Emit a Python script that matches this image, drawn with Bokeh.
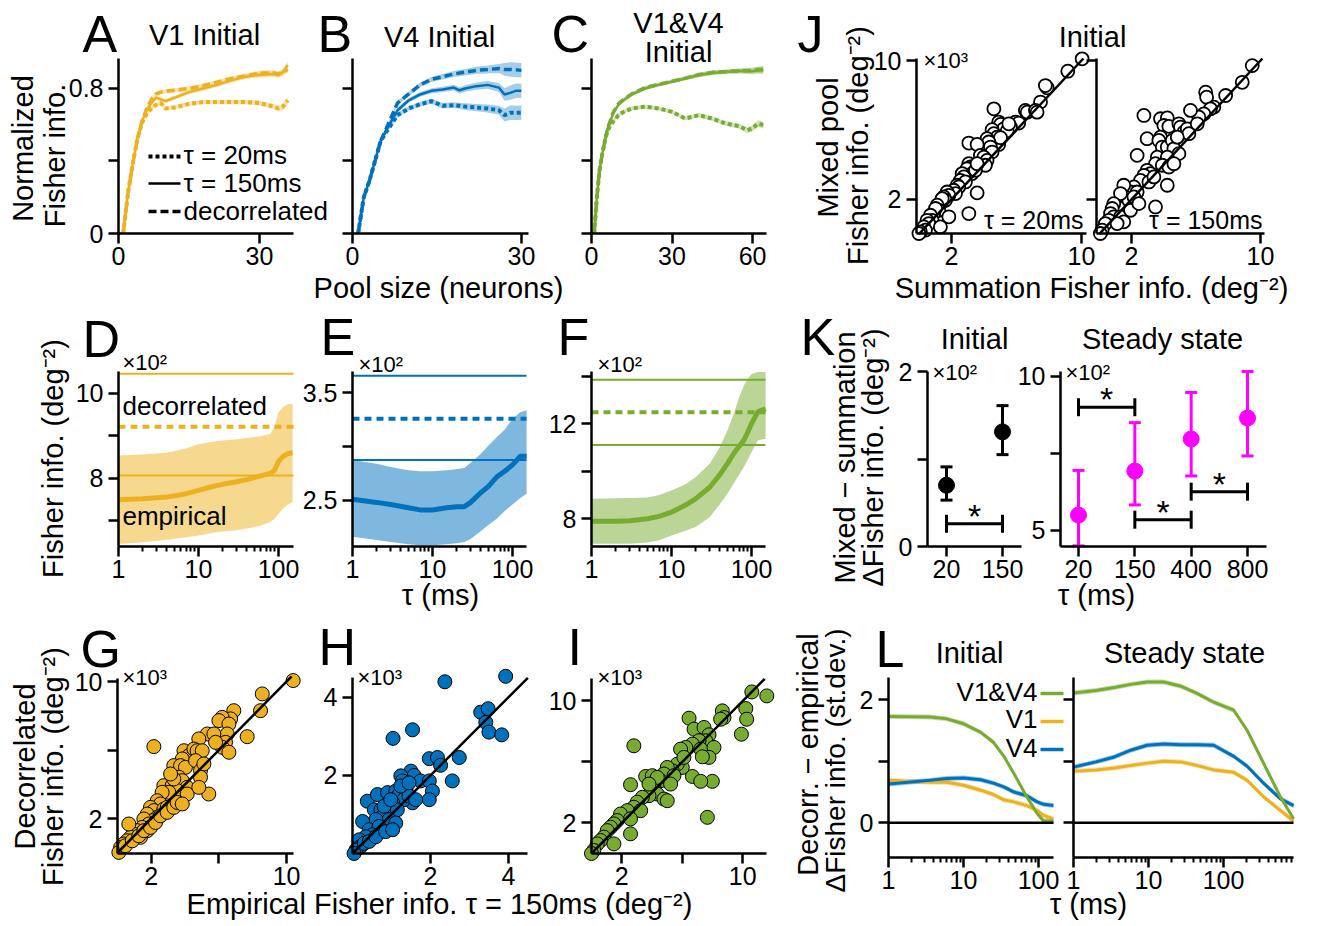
import math
from bokeh.plotting import figure
from bokeh.models import (Label, Arrow, Whisker, TeeHead, FixedTicker, CustomJSTickFormatter,
                          ColumnDataSource, Range1d, LinearScale, LogScale, LinearAxis, LogAxis)
from bokeh.core.properties import value
from bokeh.embed import file_html
from bokeh.resources import INLINE

FONT = "Liberation Sans"
ORANGE = "#EDB120"; BLUE = "#0072BD"; GREEN = "#77AC30"; MAGENTA = "#FF00FF"
PI2 = math.pi / 2

# ---------------- data ----------------
A_pool = [1, 2, 3, 4, 5, 6, 7, 8, 9, 10, 12, 15, 18, 21, 24, 27, 30, 33, 34, 35, 36]
A_tau20 = [0, .22, .38, .52, .61, .66, .69, .71, .72, .69, .695, .715, .725, .725, .725, .725, .72, .70, .69, .70, .735]
A_tau150 = [0, .22, .38, .52, .62, .68, .72, .75, .74, .73, .75, .78, .80, .82, .845, .865, .875, .88, .875, .89, .93]
A_decor = [0, .22, .38, .52, .62, .69, .74, .77, .78, .785, .79, .80, .815, .835, .855, .87, .885, .885, .88, .89, .905]
A_sem = [0, .005, .008, .01, .01, .012, .012, .012, .012, .012, .012, .012, .012, .012, .013, .013, .014, .015, .016, .018, .02]

B_pool = [1, 2, 3, 4, 5, 6, 8, 10, 12, 14, 16, 18, 19, 20, 22, 24, 26, 27, 28, 29, 30]
B_tau20 = [0, .2, .29, .40, .51, .56, .653, .69, .713, .73, .705, .708, .705, .70, .695, .69, .68, .653, .666, .666, .666]
B_tau150 = [0, .2, .29, .40, .51, .57, .68, .735, .767, .787, .795, .805, .79, .80, .813, .82, .805, .767, .776, .787, .787]
B_decor = [0, .2, .29, .40, .51, .58, .72, .77, .82, .85, .865, .88, .885, .89, .90, .905, .91, .905, .905, .903, .90]
B_sem = [0, .005, .008, .01, .01, .01, .012, .012, .013, .014, .015, .016, .017, .018, .02, .022, .025, .035, .04, .04, .04]

C_pool = [1, 2, 3, 4, 5, 6, 8, 10, 12, 15, 20, 25, 30, 35, 40, 45, 50, 55, 58, 60, 62, 64]
C_tau20 = [0, .2, .35, .44, .51, .57, .616, .653, .671, .69, .70, .69, .671, .634, .653, .634, .607, .592, .57, .58, .607, .598]
C_tau150 = [0, .2, .35, .44, .51, .58, .66, .71, .735, .767, .80, .82, .837, .855, .874, .886, .892, .896, .897, .895, .90, .90]
C_decor = [0, .2, .35, .44, .51, .58, .665, .715, .74, .77, .805, .822, .84, .857, .876, .888, .893, .897, .898, .90, .903, .905]
C_sem = [0, .005, .008, .01, .01, .01, .01, .01, .01, .01, .01, .01, .01, .01, .012, .012, .012, .013, .015, .016, .018, .02]

D_tau = [1, 2, 4, 7, 10, 15, 20, 30, 40, 60, 80, 90, 100, 115, 130, 150]
D_emp = [7.50, 7.52, 7.56, 7.64, 7.72, 7.81, 7.86, 7.92, 7.97, 8.06, 8.12, 8.2, 8.40, 8.52, 8.58, 8.60]
D_lo = [6.46, 6.50, 6.56, 6.62, 6.66, 6.72, 6.75, 6.78, 6.82, 6.89, 6.98, 7.06, 7.17, 7.30, 7.38, 7.44]
D_hi = [8.54, 8.56, 8.60, 8.70, 8.80, 8.86, 8.89, 8.92, 8.95, 8.99, 9.05, 9.25, 9.55, 9.68, 9.74, 9.76]
D_refs = [10.46, 9.21, 8.07]

E_tau = [1, 2, 3, 5, 7, 10, 15, 20, 25, 30, 40, 50, 64, 80, 100, 125, 150]
E_emp = [2.51, 2.48, 2.46, 2.43, 2.41, 2.41, 2.43, 2.44, 2.44, 2.48, 2.57, 2.63, 2.72, 2.77, 2.83, 2.91, 2.91]
E_lo = [2.16, 2.13, 2.11, 2.09, 2.08, 2.08, 2.09, 2.10, 2.11, 2.14, 2.21, 2.27, 2.33, 2.40, 2.46, 2.52, 2.56]
E_hi = [2.875, 2.84, 2.81, 2.78, 2.77, 2.77, 2.78, 2.79, 2.80, 2.85, 2.93, 3.01, 3.09, 3.16, 3.26, 3.32, 3.34]
E_refs = [3.66, 3.26, 2.875]

F_tau = [1, 2, 3, 5, 7, 10, 15, 20, 30, 40, 50, 60, 70, 80, 90, 100, 120, 150]
F_emp = [7.9, 7.9, 7.92, 8.0, 8.1, 8.28, 8.58, 8.84, 9.33, 9.85, 10.32, 10.75, 11.05, 11.3, 11.65, 12.0, 12.5, 12.63]
F_lo = [6.95, 6.95, 6.95, 7.0, 7.1, 7.3, 7.5, 7.65, 8.07, 8.6, 9.05, 9.5, 9.85, 10.17, 10.5, 10.8, 11.3, 11.37]
F_hi = [8.84, 8.86, 8.88, 8.9, 9.0, 9.19, 9.45, 9.75, 10.32, 11.0, 11.72, 12.4, 13.12, 13.6, 13.9, 14.1, 14.18, 14.18]
F_refs = [13.85, 12.49, 11.11]

G_pts = [(10.39, 10.06), (8.56, 9.28), (8.46, 8.30), (6.88, 8.30), (6.69, 7.82), (6.19, 7.91), (6.00, 7.72),
         (6.59, 7.52), (7.67, 6.78), (6.49, 6.94), (6.39, 6.45), (6.19, 6.16), (6.59, 5.87), (5.31, 6.94),
         (5.70, 6.94), (5.80, 6.45), (4.81, 6.65), (2.15, 6.20), (3.93, 5.96), (4.22, 5.67), (4.42, 5.58),
         (3.83, 5.48), (4.52, 6.06), (4.71, 5.96), (5.01, 5.96), (3.33, 5.09), (3.73, 5.09), (4.02, 4.99),
         (4.62, 5.38), (4.91, 4.80), (5.11, 5.19), (5.40, 3.43), (2.74, 3.92), (3.23, 3.92), (3.63, 4.41),
         (3.83, 4.21), (4.12, 3.82), (3.53, 3.63), (3.83, 3.24), (4.12, 3.43), (3.04, 3.53), (2.64, 3.53),
         (4.91, 4.41), (4.81, 3.82), (2.35, 3.04), (2.54, 2.85), (1.95, 2.65), (2.15, 2.46), (1.76, 2.26),
         (2.74, 2.55), (2.94, 2.65), (2.35, 2.07), (2.05, 1.87), (1.56, 1.97), (1.85, 1.68), (1.46, 1.48),
         (1.16, 1.29), (0.97, 1.09), (0.77, 0.90), (0.57, 0.70), (0.37, 0.51), (0.18, 0.31), (0.08, 0.02),
         (0.67, 1.68), (1.36, 0.90), (1.76, 1.29), (0.47, 0.41), (0.87, 0.70), (1.26, 0.99), (1.56, 1.29),
         (1.95, 1.48), (2.25, 1.77), (2.54, 2.16), (2.94, 2.36), (3.33, 2.65), (3.53, 2.94), (3.83, 2.85),
         (3.33, 4.31), (3.14, 4.60)]
H_pts = [(3.93, 4.54), (2.37, 4.40), (3.29, 3.62), (3.48, 3.71), (3.42, 3.36), (3.50, 3.11), (3.83, 3.04),
         (1.54, 3.17), (1.04, 2.95), (2.74, 2.46), (1.97, 2.43), (2.18, 2.46), (2.26, 2.26), (2.56, 1.86),
         (1.50, 2.11), (1.58, 2.00), (1.24, 1.99), (1.28, 1.86), (1.75, 1.86), (1.97, 1.86), (2.05, 1.60),
         (1.97, 1.38), (0.38, 1.34), (0.64, 1.51), (0.90, 1.56), (1.11, 1.60), (1.20, 1.51), (1.37, 1.64),
         (1.54, 1.30), (1.32, 1.38), (1.45, 1.47), (1.62, 1.38), (0.56, 1.12), (0.73, 1.12), (0.85, 1.12),
         (1.03, 1.30), (1.15, 1.12), (0.77, 0.95), (0.94, 0.87), (1.11, 0.78), (0.60, 0.87), (0.26, 0.82),
         (0.43, 0.61), (0.68, 0.69), (0.51, 0.48), (0.34, 0.43), (0.17, 0.35), (0.21, 0.18), (0.09, 0.09),
         (0.04, 0.00), (0.30, 0.26), (0.43, 0.31), (0.60, 0.43), (0.85, 0.56), (1.03, 0.61), (0.81, 1.21),
         (0.98, 1.38), (1.24, 1.73), (1.45, 1.81)]
I_pts = [(11.59, 10.33), (10.60, 10.59), (10.20, 9.50), (10.26, 8.80), (9.91, 7.82), (8.65, 9.35), (8.76, 8.91),
         (8.54, 8.80), (6.45, 8.87), (2.80, 7.06), (6.78, 8.15), (7.44, 8.26), (7.77, 7.78), (7.55, 7.39),
         (7.11, 7.39), (6.67, 7.17), (6.23, 6.95), (5.89, 6.84), (7.22, 6.84), (8.10, 6.95), (7.77, 6.30),
         (7.33, 6.34), (7.99, 4.73), (7.66, 2.37), (6.67, 5.05), (7.22, 4.73), (6.00, 5.64), (5.67, 5.86),
         (5.34, 5.42), (5.01, 5.64), (4.79, 5.21), (4.57, 4.77), (5.45, 5.10), (5.23, 4.55), (3.58, 5.05),
         (4.02, 5.10), (2.58, 4.51), (4.13, 4.34), (4.35, 3.90), (3.80, 3.79), (3.36, 3.68), (4.79, 3.57),
         (5.01, 3.46), (3.02, 3.36), (2.80, 3.03), (3.25, 2.81), (2.36, 2.81), (1.92, 2.59), (2.58, 2.27),
         (1.70, 2.16), (1.48, 1.94), (1.26, 1.72), (1.04, 1.50), (0.82, 1.07), (0.60, 0.85), (0.38, 0.63),
         (0.15, 0.20), (0.0, 0.0), (1.48, 0.63), (2.58, 1.29), (6.11, 6.30), (4.35, 4.99), (3.80, 4.55)]
J20_pts = [(10.04, 10.10), (9.16, 9.39), (7.89, 8.43), (7.78, 8.56), (7.48, 7.61), (6.55, 7.13), (6.66, 7.03),
           (7.17, 7.13), (7.27, 7.03), (5.94, 6.46), (6.14, 6.40), (5.53, 6.21), (5.63, 6.17), (4.61, 7.22),
           (4.91, 6.46), (5.02, 6.32), (5.22, 6.07), (5.43, 5.94), (5.53, 6.36), (4.50, 6.02), (4.61, 5.79),
           (4.81, 5.59), (4.91, 5.17), (5.02, 5.56), (4.19, 5.50), (4.30, 5.31), (4.40, 5.02), (4.50, 4.73),
           (3.07, 5.25), (3.58, 5.17), (3.78, 4.54), (3.99, 4.44), (4.19, 4.25), (4.09, 3.97), (3.07, 4.06),
           (3.17, 3.87), (2.96, 3.77), (3.27, 3.49), (3.48, 3.68), (3.58, 4.06), (2.66, 3.49), (2.76, 3.30),
           (2.55, 3.10), (2.86, 3.01), (2.35, 2.82), (2.45, 2.72), (2.14, 2.53), (2.25, 2.34), (3.58, 2.38),
           (3.07, 1.19), (1.73, 2.43), (1.84, 2.24), (1.53, 2.15), (1.63, 1.95), (1.32, 1.76), (1.43, 2.05),
           (1.12, 1.67), (1.22, 1.38), (0.91, 1.19), (1.02, 1.48), (0.71, 1.09), (0.81, 0.80), (0.50, 0.80),
           (0.61, 0.61), (0.30, 0.42), (0.40, 0.23), (0.09, 0.13), (0.00, 0.04), (1.84, 1.00), (1.32, 0.42)]
J150_pts = [(9.49, 9.71), (8.87, 8.75), (7.84, 7.99), (6.60, 8.18), (6.66, 7.89), (7.11, 7.32), (6.90, 7.22),
            (6.49, 6.93), (6.18, 6.74), (5.66, 7.13), (2.77, 6.84), (3.80, 6.65), (4.22, 6.70), (4.01, 6.26),
            (4.32, 6.21), (4.94, 6.36), (5.04, 6.17), (5.25, 5.88), (5.46, 6.07), (5.56, 5.79), (6.08, 6.36),
            (2.97, 5.50), (3.80, 5.59), (3.70, 5.40), (3.91, 5.02), (4.22, 5.02), (4.53, 5.40), (4.63, 4.92),
            (4.94, 4.64), (4.84, 5.59), (2.35, 4.54), (3.60, 4.44), (4.22, 4.44), (3.49, 4.06), (3.91, 3.97),
            (4.32, 3.87), (4.63, 4.06), (2.97, 3.68), (3.18, 3.49), (2.77, 3.39), (2.56, 3.10), (3.08, 3.01),
            (3.39, 3.30), (4.22, 2.82), (2.15, 2.72), (1.94, 2.43), (2.35, 2.43), (1.63, 2.15), (1.83, 1.95),
            (2.15, 2.15), (1.52, 2.82), (1.32, 2.34), (3.49, 1.57), (0.90, 1.76), (0.80, 1.48), (0.70, 1.19),
            (0.90, 1.00), (0.59, 0.80), (0.38, 0.61), (0.18, 0.23), (0.07, 0.04), (1.32, 1.00), (1.52, 0.71),
            (1.11, 0.61), (1.94, 1.38), (2.46, 1.76)]
G_diag = [0, 10.3]
H_diag = [0, 4.5]
I_diag = [0, 11.45]
J_diag = [0, 10.12]

K_init_tau = ["20", "150"]
K_init_mean = [0.70, 1.31]
K_init_lo = [0.53, 1.05]
K_init_hi = [0.91, 1.61]
K_init_sig = [(0, 1, 0.26)]
K_ss_tau = ["20", "150", "400", "800"]
K_ss_mean = [5.5, 6.93, 7.97, 8.65]
K_ss_lo = [4.5, 5.83, 6.77, 7.42]
K_ss_hi = [6.95, 8.5, 9.48, 10.16]
K_ss_sig = [(0, 1, 9.0), (1, 2, 5.35), (2, 3, 6.26)]

L_init_tau = [1, 3.6, 6, 10, 17, 25, 35, 47, 70, 96, 117, 158]
L_init_v1v4 = [1.73, 1.72, 1.69, 1.61, 1.47, 1.31, 1.07, 0.80, 0.42, 0.15, 0.03, 0.03]
L_init_v1 = [0.69, 0.66, 0.66, 0.61, 0.53, 0.46, 0.37, 0.34, 0.28, 0.20, 0.12, 0.065]
L_init_v4 = [0.63, 0.69, 0.72, 0.73, 0.70, 0.645, 0.58, 0.50, 0.44, 0.34, 0.30, 0.28]
L_ss_tau = [1, 2, 3.5, 5.8, 9.6, 16, 27, 45, 74, 137, 207, 345, 575, 860]
L_ss_v1v4 = [2.11, 2.15, 2.2, 2.25, 2.29, 2.29, 2.22, 2.10, 1.96, 1.83, 1.50, 0.96, 0.42, 0.065]
L_ss_v1 = [0.84, 0.86, 0.89, 0.93, 0.97, 1.0, 0.99, 0.93, 0.86, 0.82, 0.69, 0.42, 0.2, 0.03]
L_ss_v4 = [0.905, 0.99, 1.07, 1.18, 1.26, 1.28, 1.27, 1.27, 1.26, 1.08, 0.92, 0.64, 0.39, 0.28]
L_sem = 0.04
L_legend = ["V1&V4", "V1", "V4"]

# ---------------- canvas ----------------
W, H = 1330, 923
p = figure(width=W, height=H, x_range=Range1d(0, W), y_range=Range1d(H, 0),
           x_axis_location=None, y_axis_location=None, title_location=None,
           output_backend="svg", toolbar_location=None, min_border=0)
p.outline_line_color = None
p.grid.visible = False

XR, YR, XS, YS, PAN = {}, {}, {}, {}, {}

def panel(name, xpx, xd, ypx, yd, xlog=False):
    """xpx=(left,right) pixel, xd=data at those; ypx=(bottom,top) pixel, yd=data at those."""
    t = math.log10 if xlog else (lambda v: v)
    ta, tb = t(xd[0]), t(xd[1])
    s = (tb - ta) / (xpx[1] - xpx[0])
    xs, xe = ta - xpx[0] * s, ta + (W - xpx[0]) * s
    if xlog:
        xs, xe = 10 ** xs, 10 ** xe
    sy = (yd[1] - yd[0]) / (ypx[0] - ypx[1])
    ys, ye = yd[0] - (H - ypx[0]) * sy, yd[1] + ypx[1] * sy
    XR[name] = Range1d(xs, xe); YR[name] = Range1d(ys, ye)
    XS[name] = LogScale() if xlog else LinearScale(); YS[name] = LinearScale()
    PAN[name] = dict(xd=xd, yd=yd, xlog=xlog)

Y_AC = ((233, 58), (0, 0.9655))
panel("A", (118, 293), (0, 37.23), *Y_AC)
panel("B", (352, 528), (0, 31.26), *Y_AC)
panel("C", (591, 766), (0, 65.2), *Y_AC)
panel("J1", (916, 1086), (-0.15, 10.31), (233, 58), (0.04, 10.12))
panel("J2", (1096, 1264), (-0.17, 10.25), (233, 58), (0.04, 10.12))
panel("D", (118, 293), (1, 10 ** (175 / 80)), (546, 371), (6.4, 10.51), xlog=True)
panel("E", (352, 526), (1, 10 ** (174 / 80)), (546, 371), (2.069, 3.70), xlog=True)
panel("F", (591, 765), (1, 10 ** (174 / 80)), (546, 371), (6.834, 14.2), xlog=True)
panel("K1", (927, 1021), (-0.339, 1.339), (546, 371), (0, 2.0))
panel("K2", (1060, 1266), (-0.3195, 3.337), (546, 371), (4.48, 10.16))
panel("G", (117, 293), (0, 10.41), (853, 678), (-0.044, 10.18))
panel("H", (352, 527), (0, 4.49), (853, 677), (0, 4.51))
panel("I", (591, 766), (0, 11.57), (853, 678), (0, 11.47))
panel("L1", (888, 1053), (1, 10 ** (165 / 75)), (857, 677), (-0.564, 2.362), xlog=True)
panel("L2", (1073, 1293), (1, 10 ** (220 / 75)), (857, 677), (-0.564, 2.362), xlog=True)

p.extra_x_ranges = XR
p.extra_y_ranges = YR
p.extra_x_scales = XS
p.extra_y_scales = YS


def kw(name):
    return dict(x_range_name=name, y_range_name=name)


def fmt(labels=None):
    if labels is None:
        return CustomJSTickFormatter(code="return String(tick);")
    return CustomJSTickFormatter(args=dict(labels=labels),
                                 code="const s = labels[Math.round(tick)]; return (s === undefined) ? '' : s;")


def style(ax, major=(), minor=(), minor_len=10, labels=None, standoff=3):
    ax.ticker = FixedTicker(ticks=list(major), minor_ticks=list(minor))
    ax.formatter = fmt(labels)
    ax.axis_line_width = 2.5
    ax.axis_line_color = "black"
    ax.major_tick_line_width = 2.5
    ax.major_tick_line_color = "black"
    ax.major_tick_out = 10
    ax.major_tick_in = 0
    ax.minor_tick_line_width = 2.5 if minor_len >= 8 else 2
    ax.minor_tick_line_color = "black"
    ax.minor_tick_out = minor_len
    ax.minor_tick_in = 0
    ax.major_label_text_font = FONT
    ax.major_label_text_font_size = "25px"
    ax.major_label_text_color = "black"
    ax.major_label_standoff = standoff


LOGMIN = [2, 3, 4, 5, 6, 7, 8, 9, 20, 30, 40, 50, 60, 70, 80, 90, 200, 300, 400, 500, 600, 700, 800]


def axes(name, xmajor, xminor=(), ymajor=(), yminor=(), xlabels=None):
    d = PAN[name]
    x0, x1 = d["xd"]
    xminor = [t for t in xminor if x0 <= t <= x1]
    AX = LogAxis if d["xlog"] else LinearAxis
    xa = AX(fixed_location=d["yd"][0], bounds=tuple(d["xd"]), **kw(name))
    style(xa, xmajor, xminor, 5 if d["xlog"] else 10, labels=xlabels, standoff=3)
    p.add_layout(xa, "below")
    ya = LinearAxis(fixed_location=d["xd"][0], bounds=tuple(d["yd"]), **kw(name))
    style(ya, ymajor, yminor, 10, standoff=5)
    p.add_layout(ya, "left")


BASE_SHIFT = 0.35   # the renderer anchors "alphabetic" text about 0.35 em above its baseline


def lab(text, x, y, size=29, align="left", angle=0.0, color="black"):
    if angle == 0.0:
        y = y - BASE_SHIFT * size
    else:
        x = x - BASE_SHIFT * size
    p.add_layout(Label(x=x, y=y, text=text, text_font=FONT, text_font_size=f"{size}px",
                       text_align=align, text_baseline="alphabetic", angle=angle, text_color=color))


def seg(x0, x1, y, color, width, dash="solid"):
    p.add_layout(Arrow(start=None, end=None, x_start=x0, y_start=y, x_end=x1, y_end=y,
                       line_color=color, line_width=width, line_dash=dash))


DOT = "4 3"
DASH = "8 4"


def pool_panel(name, x, t20, t150, dec, sem, color):
    for ys in (t20, t150, dec):
        p.varea(x=x, y1=[a - s for a, s in zip(ys, sem)], y2=[a + s for a, s in zip(ys, sem)],
                fill_color=color, fill_alpha=0.35, **kw(name))
    p.line(x, t20, line_color=color, line_width=4, line_dash=DOT, **kw(name))
    p.line(x, t150, line_color=color, line_width=2.5, **kw(name))
    p.line(x, dec, line_color=color, line_width=3.5, line_dash=DASH, **kw(name))


def tau_panel(name, tau, emp, lo, hi, refs, color):
    xd = list(PAN[name]["xd"])
    p.varea(x=tau, y1=lo, y2=hi, fill_color=color, fill_alpha=0.5, **kw(name))
    p.line(tau, emp, line_color=color, line_width=5, **kw(name))
    p.line(xd, [refs[0]] * 2, line_color=color, line_width=2, **kw(name))
    p.line(xd, [refs[1]] * 2, line_color=color, line_width=4, line_dash="7 5", **kw(name))
    p.line(xd, [refs[2]] * 2, line_color=color, line_width=2, **kw(name))


def scatter_panel(name, pts, fill, diag, size=14, lw=1.0):
    xs = [a for a, b in pts]; ys = [b for a, b in pts]
    p.scatter(xs, ys, marker="circle", size=size, fill_color=fill, line_color="black", line_width=lw, **kw(name))
    p.line(diag, diag, line_color="black", line_width=2.5, **kw(name))


def k_panel(name, taus, mean, lo, hi, sig, color):
    xi = list(range(len(taus)))
    src = ColumnDataSource(dict(x=xi, lo=lo, hi=hi))
    p.add_layout(Whisker(source=src, base="x", lower="lo", upper="hi", line_color=color, line_width=3,
                         upper_head=TeeHead(size=12, line_color=color, line_width=3),
                         lower_head=TeeHead(size=12, line_color=color, line_width=3), **kw(name)))
    p.scatter(xi, mean, marker="circle", size=16, fill_color=color, line_color=color, **kw(name))
    ssrc = ColumnDataSource(dict(y=[s[2] for s in sig], x0=[s[0] for s in sig], x1=[s[1] for s in sig]))
    p.add_layout(Whisker(source=ssrc, base="y", lower="x0", upper="x1", dimension="width",
                         line_color="black", line_width=3,
                         upper_head=TeeHead(size=18, line_color="black", line_width=3),
                         lower_head=TeeHead(size=18, line_color="black", line_width=3), **kw(name)))
    p.text(x=[(s[0] + s[1]) / 2 for s in sig], y=[s[2] for s in sig], text=["*"] * len(sig),
           text_font=value(FONT), text_font_size="34px", text_align="center",
           text_baseline="middle", y_offset=-8, text_color="black", **kw(name))
    return xi


def l_panel(name, tau, series):
    for ys, color in series:
        p.varea(x=tau, y1=[v - L_sem for v in ys], y2=[v + L_sem for v in ys],
                fill_color=color, fill_alpha=0.4, **kw(name))
    for ys, color in series:
        p.line(tau, ys, line_color=color, line_width=3, **kw(name))
    p.line(list(PAN[name]["xd"]), [0, 0], line_color="black", line_width=2.5, **kw(name))


# ---------------- Row 1 ----------------
pool_panel("A", A_pool, A_tau20, A_tau150, A_decor, A_sem, ORANGE)
axes("A", [0, 30], [], [0, 0.8], [0.4])
lab("A", 82, 52, size=52)
lab("V1 Initial", 204, 45, align="center")
lab("Normalized", 33, 148, align="center", angle=PI2)
lab("Fisher info.", 65, 155, align="center", angle=PI2)
seg(148, 180, 156, "black", 4, DOT)
seg(148, 180, 183, "black", 2.5)
seg(148, 180, 211, "black", 3.5, DASH)
lab("τ = 20ms", 183, 164, size=26)
lab("τ = 150ms", 183, 192, size=26)
lab("decorrelated", 183, 220, size=26)

pool_panel("B", B_pool, B_tau20, B_tau150, B_decor, B_sem, BLUE)
axes("B", [0, 30], [], [], [0, 0.4, 0.8])
lab("B", 317, 52, size=52)
lab("V4 Initial", 439, 47, align="center")

pool_panel("C", C_pool, C_tau20, C_tau150, C_decor, C_sem, GREEN)
axes("C", [0, 30, 60], [], [], [0, 0.4, 0.8])
lab("C", 551, 52, size=52)
lab("V1&V4", 678, 33, align="center")
lab("Initial", 678, 62, align="center")
lab("Pool size (neurons)", 438, 298, align="center")

scatter_panel("J1", J20_pts, "white", J_diag, size=13, lw=1.8)
axes("J1", [2, 10], [], [2, 10])
scatter_panel("J2", J150_pts, "white", J_diag, size=13, lw=1.8)
axes("J2", [2, 10], [], [], [2, 10])
lab("J", 797, 52, size=52)
lab("Initial", 1092, 47, align="center")
lab("Mixed pool", 838, 147, align="center", angle=PI2)
lab("Fisher info. (deg⁻²)", 868, 145, align="center", angle=PI2)
lab("×10³", 923, 68, size=22)
lab("τ = 20ms", 1083, 228, size=25, align="right")
lab("τ = 150ms", 1262, 228, size=25, align="right")
lab("Summation Fisher info. (deg⁻²)", 1091, 298, align="center")

# ---------------- Row 2 ----------------
tau_panel("D", D_tau, D_emp, D_lo, D_hi, D_refs, ORANGE)
axes("D", [1, 10, 100], LOGMIN, [8, 10], [7, 9])
lab("D", 82, 357, size=52)
lab("×10²", 122, 370, size=22)
lab("decorrelated", 122, 415, size=26)
lab("empirical", 122, 525, size=26)
lab("Fisher info. (deg⁻²)", 63, 458, align="center", angle=PI2)

tau_panel("E", E_tau, E_emp, E_lo, E_hi, E_refs, BLUE)
axes("E", [1, 10, 100], LOGMIN, [2.5, 3.5], [3.0])
lab("E", 320, 355, size=52)
lab("×10²", 358, 372, size=22)
lab("τ (ms)", 440, 605, align="center")

tau_panel("F", F_tau, F_emp, F_lo, F_hi, F_refs, GREEN)
axes("F", [1, 10, 100], LOGMIN, [8, 12], [10, 14])
lab("F", 557, 355, size=52)
lab("×10²", 597, 372, size=22)

xi = k_panel("K1", K_init_tau, K_init_mean, K_init_lo, K_init_hi, K_init_sig, "black")
axes("K1", xi, [], [0, 2], [1], xlabels=K_init_tau)
xi = k_panel("K2", K_ss_tau, K_ss_mean, K_ss_lo, K_ss_hi, K_ss_sig, MAGENTA)
axes("K2", xi, [], [5, 10], [7.5], xlabels=K_ss_tau)
lab("K", 800, 355, size=52)
lab("Mixed − summation", 855, 457, align="center", angle=PI2)
lab("ΔFisher info. (deg⁻²)", 883, 457, align="center", angle=PI2)
lab("Initial", 974, 349, align="center")
lab("×10²", 932, 380, size=22)
lab("Steady state", 1162, 349, align="center")
lab("×10²", 1065, 380, size=22)
lab("τ (ms)", 1096, 605, align="center")

# ---------------- Row 3 ----------------
scatter_panel("G", G_pts, ORANGE, G_diag)
axes("G", [2, 10], [6], [2, 10], [6])
lab("G", 80, 667, size=52)
lab("×10³", 122, 685, size=22)
lab("Decorrelated", 35, 766, align="center", angle=PI2)
lab("Fisher info. (deg⁻²)", 63, 766, align="center", angle=PI2)

scatter_panel("H", H_pts, BLUE, H_diag)
axes("H", [2, 4], [], [2, 4])
lab("H", 318, 665, size=52)
lab("×10³", 357, 685, size=22)

scatter_panel("I", I_pts, GREEN, I_diag)
axes("I", [2, 10], [6], [2, 10], [6])
lab("I", 567, 665, size=52)
lab("×10³", 597, 685, size=22)
lab("Empirical Fisher info. τ = 150ms (deg⁻²)", 439, 914, align="center")

l_panel("L1", L_init_tau, [(L_init_v1, ORANGE), (L_init_v4, BLUE), (L_init_v1v4, GREEN)])
axes("L1", [1, 10, 100], LOGMIN, [0, 2], [1])
l_panel("L2", L_ss_tau, [(L_ss_v1, ORANGE), (L_ss_v4, BLUE), (L_ss_v1v4, GREEN)])
axes("L2", [1, 10, 100], LOGMIN, [], [0, 1, 2])
lab("L", 875, 667, size=52)
lab("Initial", 969, 663, align="center")
lab("Steady state", 1184, 663, align="center")
lab("Decorr. − empirical", 818, 754, align="center", angle=PI2)
lab("ΔFisher info. (st.dev.)", 845, 760, size=28, align="center", angle=PI2)
for name, color, yb, yl in zip(L_legend, [GREEN, ORANGE, BLUE], [701, 728, 757], [693, 721, 749]):
    lab(name, 1037, yb, size=26, align="right")
    seg(1040, 1063, yl, color, 3.5)
lab("τ (ms)", 1088, 914, align="center")

open("out.html", "w").write(file_html(p, INLINE, title="Fisher information figure"))
